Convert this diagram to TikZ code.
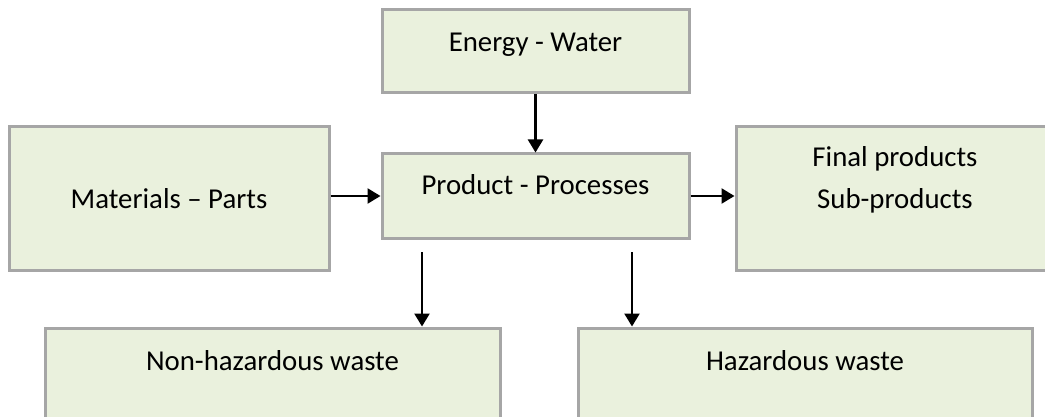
\documentclass[tikz,border=0pt]{standalone}
\usepackage{fontspec}
\setmainfont{Carlito}
\usetikzlibrary{arrows.meta}
\definecolor{boxfill}{HTML}{EAF1DD}
\definecolor{boxline}{HTML}{A6A6A6}
\tikzset{
  box/.style={draw=boxline, line width=3pt, fill=boxfill, inner sep=0pt},
  lbl/.style={anchor=base, inner sep=0pt, font=\fontsize{28.8}{34}\selectfont},
  arr/.style={line width=2.4pt, -{Triangle[length=13pt,width=15pt]}}
}
\begin{document}
\begin{tikzpicture}[x=1pt,y=-1pt]
\useasboundingbox (0,0) rectangle (1045,417);
\clip (0,0) rectangle (1045,417);
% boxes
\node[box, minimum width=307pt, minimum height=83pt] (en) at (535.5,51.5) {};
\node[box, minimum width=307pt, minimum height=84pt] (prod) at (535.5,196) {};
\node[box, minimum width=320pt, minimum height=143pt] (mat) at (169,198.5) {};
\node[box, minimum width=318pt, minimum height=143pt] (fin) at (895,198.5) {};
\node[box, minimum width=455pt, minimum height=122pt] (nh) at (272.5,389) {};
\node[box, minimum width=454pt, minimum height=122pt] (hz) at (805,389) {};
% texts
\node[lbl] (ten) at (535.5,52) {Energy - Water};
\node[lbl] (tprod) at (535.5,195) {Product - Processes};
\node[lbl] (tmat) at (169,208) {Materials – Parts};
\node[lbl] (tfin1) at (895,167) {Final products};
\node[lbl] (tfin2) at (895,208) {Sub-products};
\node[lbl] (tnh) at (272.5,370) {Non-hazardous waste};
\node[lbl] (thz) at (805,370) {Hazardous waste};
% connectors
\draw[arr] (en.south) -- (prod.north);
\draw[arr] (mat.east |- prod.west) -- (prod.west);
\draw[arr] (prod.east) -- (prod.east -| fin.west);
\coordinate (s1) at (422,252);
\coordinate (s2) at (632,252);
\draw[arr] (s1) -- (s1 |- nh.north);
\draw[arr] (s2) -- (s2 |- hz.north);
\end{tikzpicture}
\end{document}
